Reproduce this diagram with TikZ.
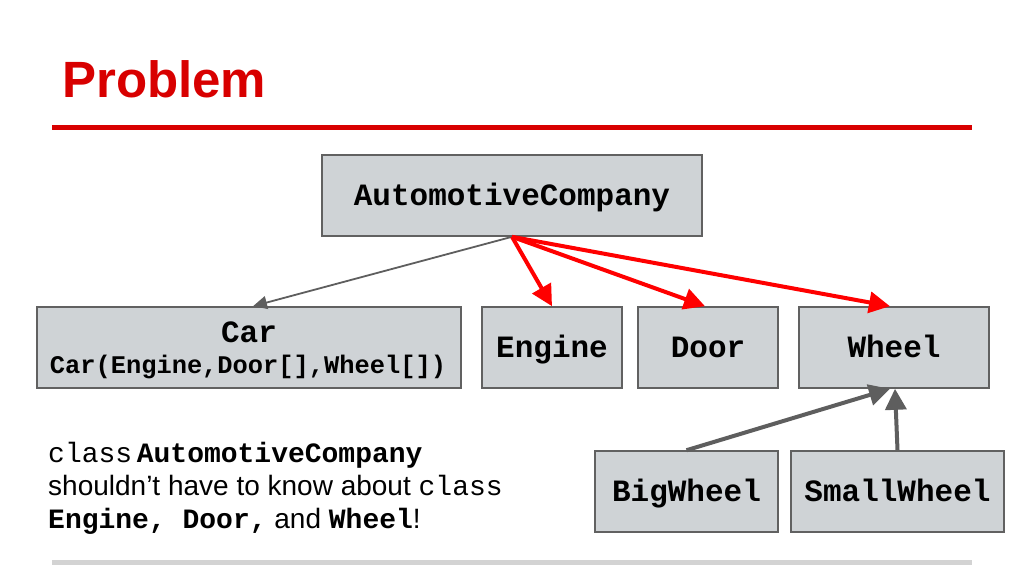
\documentclass[tikz,border=0pt]{standalone}
\usepackage{fontspec}
\setmainfont{Liberation Sans}
\setmonofont{Liberation Mono}
\usetikzlibrary{arrows.meta}
\definecolor{boxfill}{HTML}{CFD3D6}
\definecolor{boxline}{HTML}{616161}
\definecolor{titlered}{HTML}{D80000}
\definecolor{arrred}{HTML}{FF0000}
\definecolor{arrgray}{HTML}{5E5E5E}
\definecolor{rulegray}{HTML}{D3D3D3}
\tikzset{
  cls/.style={draw=boxline, line width=1.6pt, fill=boxfill, inner sep=0pt,
    font=\ttfamily\bfseries\fontsize{31}{36}\selectfont, text height=20pt, text depth=0pt},
  redarr/.style={draw=arrred, line width=4pt, -{Triangle[length=21pt,width=21pt]}},
  thinarr/.style={draw=arrgray, line width=1.8pt, -{Triangle[length=14pt,width=13pt]}},
  thickarr/.style={draw=arrgray, line width=4pt, -{Triangle[length=21pt,width=21pt]}},
  note/.style={anchor=base west, inner sep=0pt, font=\fontsize{28}{33}\selectfont},
}
\begin{document}
\begin{tikzpicture}[x=1pt,y=-1pt]
\useasboundingbox (0,0) rectangle (1024,576);
% title
\node[anchor=base west, inner sep=0pt, text=titlered, font=\bfseries\fontsize{51}{60}\selectfont] (title) at (62,97) {Problem};
\fill[titlered] (52,124.5) rectangle (972,130);
\fill[rulegray] (52,559.5) rectangle (972,564.5);
% boxes
\node[cls, minimum width=380pt, minimum height=81pt] (ac) at (512,195.5) {AutomotiveCompany};
\node[cls, minimum width=424pt, minimum height=81pt] (car) at (249,347.5) {};
\node[inner sep=0pt, anchor=base, font=\ttfamily\bfseries\fontsize{31}{36}\selectfont] (carname) at (249,342) {Car};
\node[inner sep=0pt, anchor=base, font=\ttfamily\bfseries\fontsize{25.4}{30}\selectfont] (carctor) at (248,373) {Car(Engine,Door[],Wheel[])};
\node[cls, minimum width=140pt, minimum height=81pt] (engine) at (552,347.5) {Engine};
\node[cls, minimum width=140pt, minimum height=81pt] (door) at (708,347.5) {Door};
\node[cls, minimum width=190pt, minimum height=81pt] (wheel) at (894,347.5) {Wheel};
\node[cls, minimum width=183pt, minimum height=81pt] (big) at (686.5,491.5) {BigWheel};
\node[cls, minimum width=213pt, minimum height=81pt] (small) at (897.5,491.5) {SmallWheel};
% connectors
\draw[thinarr] (ac.south) -- ([xshift=4pt]car.north);
\draw[redarr] (ac.south) -- (engine.north);
\draw[redarr] (ac.south) -- ([xshift=-3pt]door.north);
\draw[redarr] (ac.south) -- ([xshift=-4pt]wheel.north);
\draw[thickarr] (big.north) -- ([xshift=-4pt]wheel.south);
\draw[thickarr] (small.north) -- ([xshift=1pt]wheel.south);
% note text
\node[note] (l1) at (48,462) {\texttt{class}\,\texttt{\bfseries AutomotiveCompany}};
\node[note] (l2) at (48,495) {shouldn’t have to know about \texttt{class}};
\node[note] (l3) at (48,528) {\texttt{\bfseries Engine, Door,} and \texttt{\bfseries Wheel}!};
\end{tikzpicture}
\end{document}
